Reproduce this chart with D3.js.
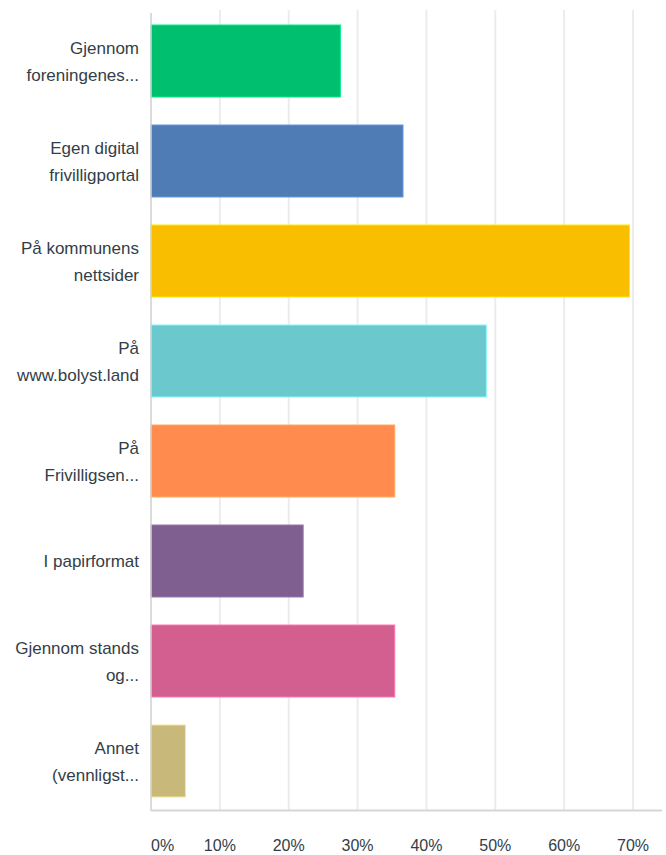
<!DOCTYPE html>
<html><head><meta charset="utf-8">
<script src="https://cdn.jsdelivr.net/npm/d3@7"></script>
<style>body{margin:0;background:#fff;}svg{display:block;}</style>
</head><body>
<script>
const categories = [
  ["Gjennom", "foreningenes..."],
  ["Egen digital", "frivilligportal"],
  ["På kommunens", "nettsider"],
  ["På", "www.bolyst.land"],
  ["På", "Frivilligsen..."],
  ["I papirformat"],
  ["Gjennom stands", "og..."],
  ["Annet", "(vennligst..."]
];
const values = [27.5, 36.6, 69.5, 48.7, 35.4, 22.1, 35.4, 5.0];
const colors = ["#00bf6f", "#507cb6", "#f9be00", "#6bc8cd", "#ff8b4f", "#7f5f90", "#d25f90", "#c8b97b"];
const ticks = [0, 10, 20, 30, 40, 50, 60, 70];

const W = 666, H = 855;
const svg = d3.select("body").append("svg").attr("width", W).attr("height", H);
const x = d3.scaleLinear().domain([0, 70]).range([151, 633]);
const y = d3.scaleBand().domain(d3.range(categories.length)).range([11, 811]).paddingInner(0.28).paddingOuter(0.14);

// gridlines
svg.append("g").selectAll("line").data(ticks.slice(1)).join("line")
  .attr("x1", d => x(d)).attr("x2", d => x(d))
  .attr("y1", 10).attr("y2", 810)
  .attr("stroke", "#ececec").attr("stroke-width", 2);

// bars
svg.append("g").selectAll("rect").data(values).join("rect")
  .attr("x", x(0)).attr("y", (d, i) => y(i))
  .attr("width", d => x(d) - x(0)).attr("height", y.bandwidth())
  .attr("fill", (d, i) => colors[i])
  .attr("stroke", (d, i) => d3.color(colors[i]).brighter(0.6))
  .attr("stroke-width", 1);

// axes lines
svg.append("line").attr("x1", 151).attr("x2", 151).attr("y1", 13).attr("y2", 811)
  .attr("stroke", "#cfcfcf").attr("stroke-width", 1.5);
svg.append("line").attr("x1", 151).attr("x2", 662).attr("y1", 810.5).attr("y2", 810.5)
  .attr("stroke", "#d6d6d6").attr("stroke-width", 2);

// tick labels
svg.append("g").selectAll("text").data(ticks).join("text")
  .attr("x", d => d === 0 ? x(0) : x(d))
  .attr("y", 851)
  .attr("text-anchor", d => d === 0 ? "start" : "middle")
  .attr("font-family", "Liberation Sans, Arial, sans-serif")
  .attr("font-size", 16).attr("fill", "#333e48")
  .text(d => d + "%");

// category labels
const lab = svg.append("g").selectAll("text").data(categories).join("text")
  .attr("text-anchor", "end")
  .attr("font-family", "Liberation Sans, Arial, sans-serif")
  .attr("font-size", 17).attr("fill", "#333e48");
lab.each(function(lines, i) {
  const cy = y(i) + y.bandwidth() / 2;
  const n = lines.length, lh = 27;
  d3.select(this).selectAll("tspan").data(lines).join("tspan")
    .attr("x", 139)
    .attr("y", (l, j) => cy + (j - (n - 1) / 2) * lh + 6)
    .text(l => l);
});
</script>
</body></html>
